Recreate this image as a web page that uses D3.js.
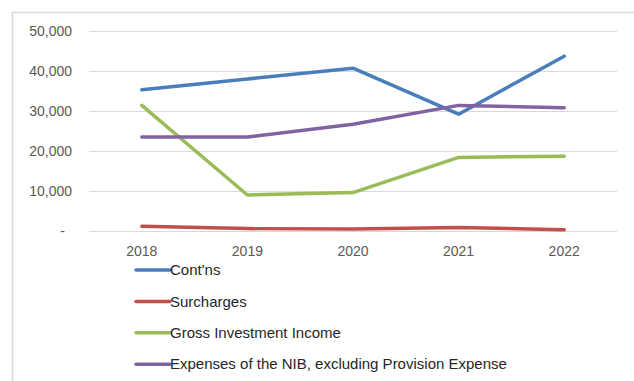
<!DOCTYPE html>
<html>
<head>
<meta charset="utf-8">
<script src="https://cdn.jsdelivr.net/npm/d3@7/dist/d3.min.js"></script>
<style>
  html, body { margin: 0; padding: 0; background: #fff; }
  svg { display: block; }
</style>
</head>
<body>
<svg id="chart" width="634" height="381"></svg>
<script>
// Fund income and expense lines, 2018–2022
const years = ["2018", "2019", "2020", "2021", "2022"];
const contributions = [35300, 38000, 40700, 29200, 43700];
const surcharges = [1200, 600, 500, 900, 300];
const investmentIncome = [31400, 9000, 9600, 18400, 18700];
const expenses = [23500, 23500, 26700, 31400, 30800];
const yTicks = [0, 10000, 20000, 30000, 40000, 50000];
const seriesNames = [
  "Cont'ns",
  "Surcharges",
  "Gross Investment Income",
  "Expenses of the NIB, excluding Provision Expense"
];
const seriesColors = ["#4a7ebb", "#c0504d", "#9bbb59", "#8064a2"];
const seriesValues = [contributions, surcharges, investmentIncome, expenses];

const svg = d3.select("#chart");
const font = "'Liberation Sans', Arial, sans-serif";

// chart area frame (left and top edges)
svg.append("path")
  .attr("d", "M12.5,381 V12.5 H634")
  .attr("fill", "none")
  .attr("stroke", "#d9d9d9")
  .attr("stroke-width", 1.5);

const plot = { left: 89, right: 617, top: 31, bottom: 231 };

const x = d3.scaleBand().domain(years).range([plot.left, plot.right]);
const y = d3.scaleLinear().domain([0, 50000]).range([plot.bottom, plot.top]);

// horizontal gridlines
svg.append("g")
  .selectAll("line")
  .data(yTicks)
  .join("line")
  .attr("x1", plot.left)
  .attr("x2", plot.right)
  .attr("y1", d => Math.round(y(d)) + 0.5)
  .attr("y2", d => Math.round(y(d)) + 0.5)
  .attr("stroke", "#d9d9d9")
  .attr("stroke-width", 1.2);

// y axis labels (accounting style: zero shown as a dash)
const fmt = d3.format(",");
svg.append("g")
  .selectAll("text")
  .data(yTicks)
  .join("text")
  .attr("x", d => d === 0 ? 65 : 72)
  .attr("y", d => y(d))
  .attr("dy", "0.35em")
  .attr("text-anchor", "end")
  .attr("font-family", font)
  .attr("font-size", 14)
  .attr("fill", "#595959")
  .text(d => d === 0 ? "-" : fmt(d));

// x axis labels
svg.append("g")
  .selectAll("text")
  .data(years)
  .join("text")
  .attr("x", d => x(d) + x.bandwidth() / 2)
  .attr("y", 256)
  .attr("text-anchor", "middle")
  .attr("font-family", font)
  .attr("font-size", 14)
  .attr("fill", "#595959")
  .text(d => d);

// series lines
const line = d3.line()
  .x((d, i) => x(years[i]) + x.bandwidth() / 2)
  .y(d => y(d));

svg.append("g")
  .selectAll("path")
  .data(seriesValues)
  .join("path")
  .attr("d", d => line(d))
  .attr("fill", "none")
  .attr("stroke", (d, i) => seriesColors[i])
  .attr("stroke-width", 3.5)
  .attr("stroke-linejoin", "round")
  .attr("stroke-linecap", "round");

// legend
const legend = svg.append("g")
  .selectAll("g")
  .data(seriesNames)
  .join("g")
  .attr("transform", (d, i) => `translate(0,${270 + i * 31.4})`);

legend.append("line")
  .attr("x1", 136)
  .attr("x2", 170)
  .attr("stroke", (d, i) => seriesColors[i])
  .attr("stroke-width", 3.5)
  .attr("stroke-linecap", "round");

legend.append("text")
  .attr("x", 170)
  .attr("dy", "0.35em")
  .attr("font-family", font)
  .attr("font-size", 15)
  .attr("fill", "#262626")
  .text(d => d);
</script>
</body>
</html>
